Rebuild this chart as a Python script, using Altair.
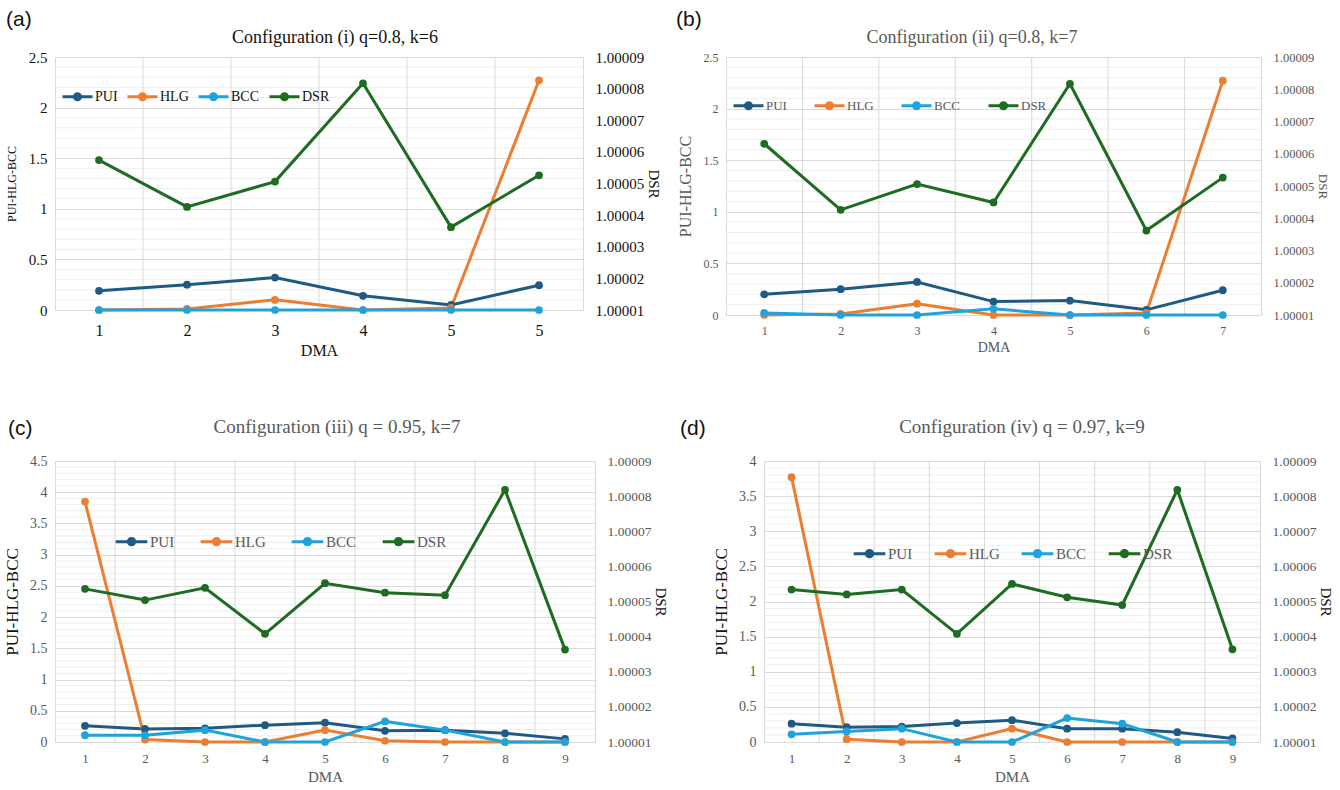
import json
import altair as alt
import pandas as pd

SERIES = ["PUI", "HLG", "BCC", "DSR"]
COLORS = ["#1F5A82", "#ED7D31", "#1FA3DC", "#1E6B22"]

# ---- Panel (a) ----
a_labels = ["1", "2", "3", "4", "5", "5"]
a_pui = [0.19, 0.25, 0.32, 0.14, 0.05, 0.245]
a_hlg = [0.0, 0.01, 0.10, 0.0, 0.02, 2.27]
a_bcc = [0.0, 0.0, 0.0, 0.0, 0.0, 0.0]
a_dsr = [1.0000574, 1.0000426, 1.0000506, 1.0000817, 1.0000362, 1.0000526]

# ---- Panel (b) ----
b_labels = ["1", "2", "3", "4", "5", "6", "7"]
b_pui = [0.20, 0.25, 0.32, 0.13, 0.14, 0.05, 0.24]
b_hlg = [0.0, 0.01, 0.11, 0.0, 0.0, 0.02, 2.27]
b_bcc = [0.02, 0.0, 0.0, 0.06, 0.0, 0.0, 0.0]
b_dsr = [1.0000631, 1.0000426, 1.0000506, 1.0000449, 1.0000817, 1.0000362, 1.0000526]

# ---- Panel (c) ----
c_labels = ["1", "2", "3", "4", "5", "6", "7", "8", "9"]
c_pui = [0.26, 0.21, 0.22, 0.27, 0.31, 0.18, 0.19, 0.14, 0.05]
c_hlg = [3.85, 0.04, 0.0, 0.0, 0.19, 0.02, 0.0, 0.0, 0.0]
c_bcc = [0.11, 0.11, 0.19, 0.0, 0.0, 0.33, 0.19, 0.0, 0.0]
c_dsr = [1.0000536, 1.0000504, 1.0000539, 1.0000408, 1.0000552, 1.0000525, 1.0000518, 1.0000818, 1.0000363]

# ---- Panel (d) ----
d_labels = ["1", "2", "3", "4", "5", "6", "7", "8", "9"]
d_pui = [0.26, 0.21, 0.22, 0.27, 0.31, 0.19, 0.19, 0.14, 0.05]
d_hlg = [3.77, 0.04, 0.0, 0.0, 0.19, 0.0, 0.0, 0.0, 0.0]
d_bcc = [0.11, 0.15, 0.19, 0.0, 0.0, 0.34, 0.26, 0.0, 0.0]
d_dsr = [1.0000534, 1.000052, 1.0000534, 1.0000408, 1.000055, 1.0000512, 1.000049, 1.0000818, 1.0000364]

DSR_TICKS = [1.00001, 1.00002, 1.00003, 1.00004, 1.00005, 1.00006, 1.00007, 1.00008, 1.00009]

SERIF = "Liberation Serif"
SANS = "Liberation Sans"
GRAY = "#595959"
BLACK = "#111111"

LEGEND_PATH = ("M-1,0L1,0"
               "M0.2,0A0.2,0.2,0,1,1,-0.2,0A0.2,0.2,0,1,1,0.2,0"
               "M0.08,0A0.08,0.08,0,1,1,-0.08,0A0.08,0.08,0,1,1,0.08,0")


def panel(letter, title, labels, pui, hlg, bcc, dsr, ymax, ystep, sty):
    n = len(labels)
    idx = list(range(1, n + 1))
    rows = []
    for name, vals in (("PUI", pui), ("HLG", hlg), ("BCC", bcc)):
        for i, v in zip(idx, vals):
            rows.append({"idx": i, "series": name, "value": v})
    df_left = pd.DataFrame(rows)
    df_dsr = pd.DataFrame({"idx": idx, "series": ["DSR"] * n, "DSR": dsr})

    majors = [round(k * ystep, 2) for k in range(int(round(ymax / ystep)) + 1)]
    minors = [round(k * 0.1, 2) for k in range(int(round(ymax / 0.1)) + 1)]
    minors = [m for m in minors if all(abs(m - M) > 1e-6 for M in majors)]
    bounds = [i + 0.5 for i in range(1, n)]

    xscale = alt.Scale(domain=[0.5, n + 0.5], nice=False, zero=False)
    yscale = alt.Scale(domain=[0, ymax], nice=False, zero=True)
    cscale = alt.Scale(domain=SERIES, range=COLORS)

    label_expr = json.dumps(labels) + "[datum.value - 1]"
    xaxis = alt.Axis(
        values=idx, labelExpr=label_expr, grid=False, ticks=False, domain=False,
        title="DMA", labelFont=SERIF, labelFontSize=sty["xl"], labelColor=sty["xlc"],
        titleFont=SERIF, titleFontSize=sty["xt"], titleColor=sty["xtc"],
        titleFontWeight="normal", labelPadding=sty["xpad"], titlePadding=4,
    )
    yaxis = alt.Axis(
        values=majors, format="~g", grid=True, gridColor="#d9d9d9", ticks=False,
        domain=False, title="PUI-HLG-BCC", labelFont=SERIF, labelFontSize=sty["yl"],
        labelColor=sty["ylc"], titleFont=SERIF, titleFontSize=sty["yt"],
        titleColor=sty["ytc"], titleFontWeight="normal", labelPadding=8,
        titlePadding=sty["ytpad"],
    )

    minor_layer = alt.Chart(pd.DataFrame({"g": minors})).mark_rule(
        color="#efefef", strokeWidth=1
    ).encode(y=alt.Y("g:Q", scale=yscale, axis=yaxis))

    vert_layer = alt.Chart(pd.DataFrame({"b": bounds})).mark_rule(
        color="#d9d9d9", strokeWidth=1
    ).encode(x=alt.X("b:Q", scale=xscale, axis=xaxis))

    legend = alt.Legend(
        title=None, orient="none", direction="horizontal",
        legendX=sty["lx"], legendY=sty["ly"], symbolType=LEGEND_PATH,
        symbolSize=sty["ss"], symbolStrokeWidth=3, labelFont=SERIF,
        labelFontSize=sty["lf"], labelColor=sty["lc"], labelOffset=1,
        columnPadding=sty["cp"], padding=0,
    )
    point = alt.OverlayMarkDef(filled=True, size=60)

    lines = alt.Chart(df_left).mark_line(point=point, strokeWidth=3).encode(
        x=alt.X("idx:Q", scale=xscale, axis=xaxis),
        y=alt.Y("value:Q", scale=yscale, axis=yaxis),
        color=alt.Color("series:N", scale=cscale, legend=legend),
    )

    text_df = pd.DataFrame({"t": [letter], "c": [title]})
    letter_layer = alt.Chart(text_df).mark_text(
        font=SANS, fontSize=21, align="left", baseline="middle", color="#111111"
    ).encode(text="t:N", x=alt.value(sty["ltx"]), y=alt.value(sty["lty"]))
    title_layer = alt.Chart(text_df).mark_text(
        font=SERIF, fontSize=sty["tf"], align="center", baseline="middle", color=sty["tc"]
    ).encode(text="c:N", x=alt.value(sty["ttx"]), y=alt.value(sty["tty"]))

    left = alt.layer(minor_layer, vert_layer, lines, letter_layer, title_layer)

    dsr_axis = alt.Axis(
        values=DSR_TICKS, format=".5f", orient="right", grid=False, ticks=False,
        domain=False, title="DSR", labelFont=SERIF, labelFontSize=sty["dl"],
        labelColor=sty["dlc"], titleFont=SERIF, titleFontSize=sty["dt"],
        titleColor=sty["dtc"], titleFontWeight="normal", labelPadding=12,
        titlePadding=2,
    )
    dsr_layer = alt.Chart(df_dsr).mark_line(point=point, strokeWidth=3).encode(
        x=alt.X("idx:Q", scale=xscale, axis=xaxis),
        y=alt.Y("DSR:Q", scale=alt.Scale(domain=[1.00001, 1.00009], nice=False, zero=False),
                axis=dsr_axis),
        color=alt.Color("series:N", scale=cscale, legend=None),
    )

    return alt.layer(left, dsr_layer).resolve_scale(y="independent").properties(
        width=sty["w"], height=sty["h"],
    )


sty_a = dict(w=528, h=253, xl=16, xlc=BLACK, xt=16, xtc=BLACK, xpad=12,
             yl=15, ylc=BLACK, yt=12, ytc=BLACK, ytpad=10,
             dl=15, dlc=BLACK, dt=15, dtc=BLACK,
             lx=6, ly=23, ss=900, lf=14, lc=BLACK, cp=3,
             tf=18, tc=BLACK, ttx=280, tty=-19, ltx=-49, lty=-37)
sty_b = dict(w=535, h=258, xl=12, xlc=GRAY, xt=14, xtc=GRAY, xpad=10,
             yl=12, ylc=GRAY, yt=16, ytc=GRAY, ytpad=10,
             dl=12.5, dlc=GRAY, dt=13, dtc=GRAY,
             lx=6, ly=32, ss=900, lf=13, lc=GRAY, cp=21,
             tf=18, tc=GRAY, ttx=246, tty=-19, ltx=-50, lty=-37)
sty_c = dict(w=540, h=281, xl=13, xlc=GRAY, xt=15, xtc=GRAY, xpad=10,
             yl=14, ylc=GRAY, yt=17, ytc=BLACK, ytpad=8,
             dl=13.5, dlc=GRAY, dt=15, dtc=BLACK,
             lx=59, ly=63, ss=1000, lf=15, lc=GRAY, cp=19,
             tf=19, tc=GRAY, ttx=282, tty=-34, ltx=-47, lty=-32)
sty_d = dict(w=496, h=281, xl=13, xlc=GRAY, xt=15, xtc=GRAY, xpad=10,
             yl=14, ylc=GRAY, yt=17, ytc=BLACK, ytpad=8,
             dl=13.5, dlc=GRAY, dt=15, dtc=BLACK,
             lx=88, ly=75, ss=1000, lf=15, lc=GRAY, cp=15,
             tf=19, tc=GRAY, ttx=258, tty=-34, ltx=-84, lty=-32)

pa = panel("(a)", "Configuration (i) q=0.8, k=6", a_labels, a_pui, a_hlg, a_bcc, a_dsr, 2.5, 0.5, sty_a)
pb = panel("(b)", "Configuration (ii) q=0.8, k=7", b_labels, b_pui, b_hlg, b_bcc, b_dsr, 2.5, 0.5, sty_b)
pc = panel("(c)", "Configuration (iii) q = 0.95, k=7", c_labels, c_pui, c_hlg, c_bcc, c_dsr, 4.5, 0.5, sty_c)
pd_ = panel("(d)", "Configuration (iv) q = 0.97, k=9", d_labels, d_pui, d_hlg, d_bcc, d_dsr, 4.0, 0.5, sty_d)

row1 = alt.hconcat(pa, pb, spacing=13).resolve_scale(color="independent").resolve_legend(color="independent")
row2 = alt.hconcat(pc, pd_, spacing=10).resolve_scale(color="independent").resolve_legend(color="independent")

chart = alt.vconcat(row1, row2, spacing=58).resolve_scale(color="independent").resolve_legend(
    color="independent"
).properties(
    padding={"left": 3, "top": 8, "right": 0, "bottom": 0}, background="white"
).configure_view(stroke="#d9d9d9").configure_axis(
    labelFont=SERIF, titleFont=SERIF
).configure_legend(labelFont=SERIF)

chart.save("out.html", embed_options={"renderer": "svg", "actions": False})
